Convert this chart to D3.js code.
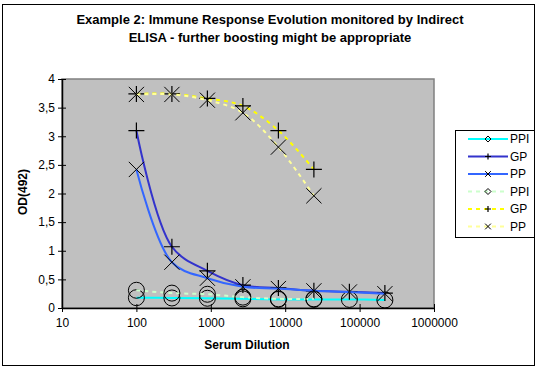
<!DOCTYPE html>
<html>
<head>
<meta charset="utf-8">
<script src="https://cdnjs.cloudflare.com/ajax/libs/d3/7.8.5/d3.min.js"></script>
<style>
  body { margin: 0; background: #fff; }
  text { font-family: Arial, "Liberation Sans", sans-serif; }
</style>
</head>
<body>
<script>
// data
var dilution = [100, 300, 900, 2700, 8100, 24300, 72900, 218700];
var ppi1 = [0.18, 0.175, 0.17, 0.16, 0.15, 0.15, 0.15, 0.14];
var gp1  = [3.10, 1.07, 0.65, 0.40, 0.35, 0.30, 0.285, 0.26];
var pp1  = [2.42, 0.80, 0.52, 0.37, 0.34, 0.30, 0.28, 0.25];
var ppi2 = [0.31, 0.26, 0.24, 0.19, 0.16, 0.16];
var gp2  = [3.74, 3.74, 3.66, 3.53, 3.10, 2.42];
var pp2  = [3.73, 3.73, 3.63, 3.41, 2.81, 1.96];
var xTicks = [10, 100, 1000, 10000, 100000, 1000000];
var yTicks = [0, 0.5, 1, 1.5, 2, 2.5, 3, 3.5, 4];
var titleLines = ["Example 2: Immune Response Evolution monitored by Indirect",
                  "ELISA - further boosting might be appropriate"];

var series = [
  { name: "PPI", values: ppi1, color: "#00FFFF", dash: null, marker: "circle" },
  { name: "GP",  values: gp1,  color: "#3333CC", dash: null, marker: "plus" },
  { name: "PP",  values: pp1,  color: "#3366FF", dash: null, marker: "cross" },
  { name: "PPI", values: ppi2, color: "#CCFFCC", dash: "4,4", marker: "circle" },
  { name: "GP",  values: gp2,  color: "#FFFF00", dash: "4,4", marker: "plus" },
  { name: "PP",  values: pp2,  color: "#FFFF99", dash: "4,4", marker: "cross" }
];

var W = 541, H = 372;
var plot = { left: 62, right: 434, top: 79, bottom: 308 };

var svg = d3.select("body").append("svg")
  .attr("width", W).attr("height", H);

// outer frame
svg.append("rect")
  .attr("x", 2.5).attr("y", 4.5)
  .attr("width", 532).attr("height", 361)
  .attr("fill", "#fff").attr("stroke", "#000").attr("stroke-width", 1);

var x = d3.scaleLog().domain([10, 1000000]).range([plot.left, plot.right]);
var y = d3.scaleLinear().domain([0, 4]).range([plot.bottom, plot.top]);

// plot area
svg.append("rect")
  .attr("x", plot.left).attr("y", plot.top)
  .attr("width", plot.right - plot.left).attr("height", plot.bottom - plot.top)
  .attr("fill", "#C0C0C0").attr("stroke", "#808080").attr("stroke-width", 1.5);

// title
svg.append("text")
  .attr("x", 270).attr("y", 24)
  .attr("text-anchor", "middle")
  .style("font-size", "13px").style("font-weight", "bold")
  .selectAll("tspan").data(titleLines).enter().append("tspan")
  .attr("x", 270).attr("dy", function (d, i) { return i ? 18 : 0; })
  .text(function (d) { return d; });

// axes
var fmt = function (d) { return String(d).replace(".", ","); };
var yAxis = svg.append("g")
  .attr("transform", "translate(" + plot.left + ",0)")
  .call(d3.axisLeft(y).tickValues(yTicks).tickFormat(fmt).tickSizeInner(4).tickSizeOuter(0));
yAxis.selectAll(".tick line").attr("x2", 4).attr("x1", -4);
var xAxis = svg.append("g")
  .attr("transform", "translate(0," + plot.bottom + ")")
  .call(d3.axisBottom(x).tickValues(xTicks).tickFormat(d3.format("d")).tickSizeInner(4).tickSizeOuter(0));
xAxis.selectAll(".tick line").attr("y1", -4).attr("y2", 4);
svg.selectAll(".domain").attr("stroke", "#000").attr("stroke-width", 1.5);
svg.selectAll(".tick text").style("font-size", "12px").style("font-family", "Arial, 'Liberation Sans', sans-serif").attr("fill", "#000");
yAxis.selectAll(".tick text").attr("x", -7);
xAxis.selectAll(".tick text").attr("y", 10);

// axis titles
svg.append("text")
  .attr("x", 247).attr("y", 349)
  .attr("text-anchor", "middle")
  .style("font-size", "12px").style("font-weight", "bold")
  .text("Serum Dilution");
svg.append("text")
  .attr("transform", "translate(27,192) rotate(-90)")
  .attr("text-anchor", "middle")
  .style("font-size", "12px").style("font-weight", "bold")
  .text("OD(492)");

// lines
var line = d3.line()
  .x(function (d, i) { return x(dilution[i]); })
  .y(function (d) { return y(d); })
  .curve(d3.curveCatmullRom.alpha(0.5));

function drawMarker(g, type, cx, cy, s) {
  if (type === "circle") {
    g.append("circle").attr("cx", cx).attr("cy", cy).attr("r", s)
      .attr("fill", "none").attr("stroke", "#000").attr("stroke-width", 1);
  } else if (type === "diamond") {
    g.append("path")
      .attr("d", "M" + cx + "," + (cy - s) + "L" + (cx + s) + "," + cy + "L" + cx + "," + (cy + s) + "L" + (cx - s) + "," + cy + "Z")
      .attr("fill", "none").attr("stroke", "#000").attr("stroke-width", 1);
  } else if (type === "plus") {
    g.append("path")
      .attr("d", "M" + (cx - s) + "," + cy + "H" + (cx + s) + "M" + cx + "," + (cy - s) + "V" + (cy + s))
      .attr("stroke", "#000").attr("stroke-width", 1.2);
  } else {
    var k = s * 0.95;
    g.append("path")
      .attr("d", "M" + (cx - k) + "," + (cy - k) + "L" + (cx + k) + "," + (cy + k) +
                 "M" + (cx - k) + "," + (cy + k) + "L" + (cx + k) + "," + (cy - k))
      .attr("stroke", "#000").attr("stroke-width", 1);
  }
}

var marks = svg.append("g");
series.forEach(function (s) {
  marks.append("path")
    .attr("d", line(s.values))
    .attr("fill", "none")
    .attr("stroke", s.color)
    .attr("stroke-width", 2)
    .attr("stroke-dasharray", s.dash);
  s.values.forEach(function (v, i) {
    drawMarker(marks, s.marker, x(dilution[i]), y(v), 8);
  });
});

// legend
var lg = svg.append("g");
lg.append("rect")
  .attr("x", 455.5).attr("y", 130.5).attr("width", 79).attr("height", 107)
  .attr("fill", "#fff").attr("stroke", "#000");
series.forEach(function (s, i) {
  var ly = 139 + i * 17.5;
  lg.append("line")
    .attr("x1", 468).attr("x2", 508).attr("y1", ly).attr("y2", ly)
    .attr("stroke", s.color).attr("stroke-width", 2)
    .attr("stroke-dasharray", s.dash);
  drawMarker(lg, s.marker === "circle" ? "diamond" : s.marker, 488, ly, 3);
  lg.append("text")
    .attr("x", 510).attr("y", ly + 4)
    .style("font-size", "12px")
    .text(s.name);
});
</script>
</body>
</html>
